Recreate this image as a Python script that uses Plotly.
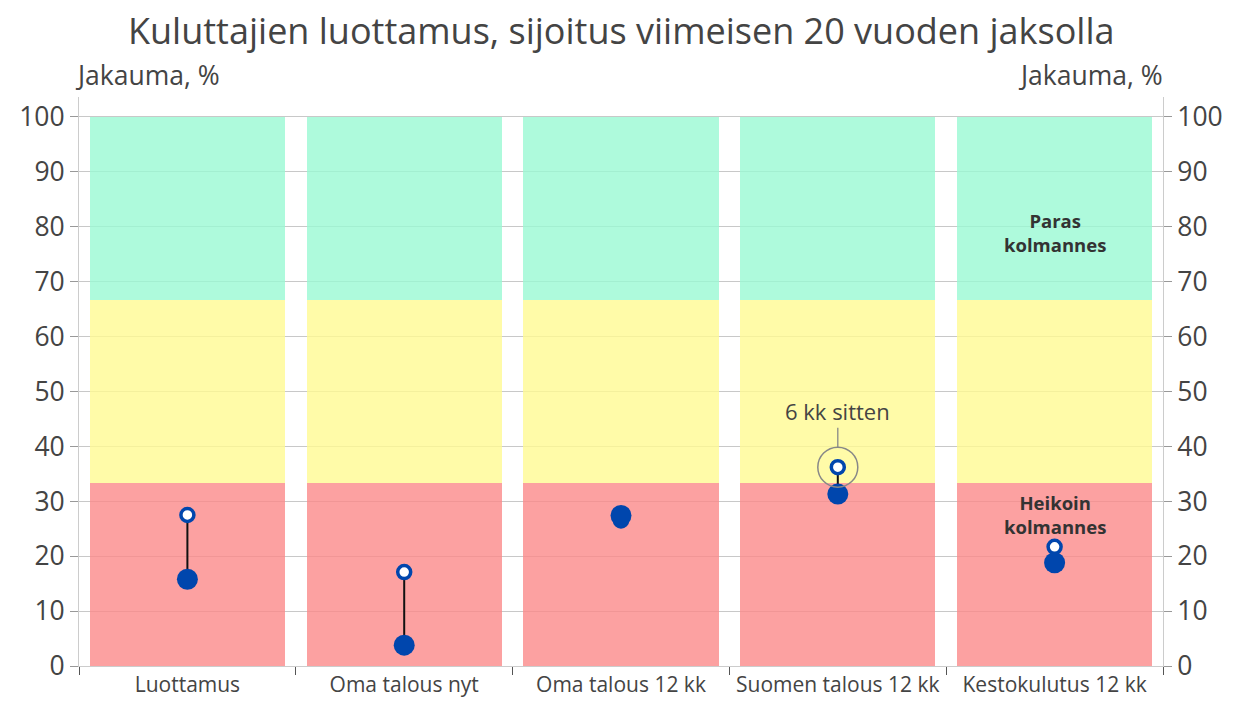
import plotly.graph_objects as go

categories = ["Luottamus", "Oma talous nyt", "Oma talous 12 kk", "Suomen talous 12 kk", "Kestokulutus 12 kk"]
current = [15.8, 3.8, 27.4, 31.3, 18.8]
six_months_ago = [27.5, 17.1, 26.5, 36.2, 21.7]
band_low = [100 / 3] * 5
band_mid = [100 / 3] * 5
band_high = [100 / 3] * 5
y_ticks = [0, 10, 20, 30, 40, 50, 60, 70, 80, 90, 100]
highlight_index = 3
title_text = "Kuluttajien luottamus, sijoitus viimeisen 20 vuoden jaksolla"

FONT = "Open Sans"
TXT = "#444444"
BLUE = "#0046AD"

fig = go.Figure()
for vals, col, name in [
    (band_low, "rgba(251,137,137,0.8)", "Heikoin kolmannes"),
    (band_mid, "rgba(255,250,146,0.8)", "Keskimmäinen kolmannes"),
    (band_high, "rgba(154,249,211,0.8)", "Paras kolmannes"),
]:
    fig.add_trace(go.Bar(x=categories, y=vals, marker=dict(color=col, line=dict(width=0)),
                         name=name, hoverinfo="skip", showlegend=False))

# connectors
lx, ly = [], []
for c, a, b in zip(categories, current, six_months_ago):
    lx += [c, c, None]
    ly += [a, b, None]
fig.add_trace(go.Scatter(x=lx, y=ly, mode="lines", line=dict(color="#111111", width=2),
                         showlegend=False, hoverinfo="skip"))

fig.add_trace(go.Scatter(x=categories, y=six_months_ago, mode="markers", name="6 kk sitten",
                         marker=dict(size=13, color="white", line=dict(color=BLUE, width=3.5)),
                         showlegend=False))
fig.add_trace(go.Scatter(x=categories, y=current, mode="markers", name="Nyt",
                         marker=dict(size=21, color=BLUE, line=dict(width=0)),
                         showlegend=False))
# highlight circle
fig.add_trace(go.Scatter(x=[categories[highlight_index]], y=[six_months_ago[highlight_index]],
                         mode="markers", hoverinfo="skip", showlegend=False,
                         marker=dict(size=40, symbol="circle-open", color="#888888",
                                     line=dict(width=1.5, color="#888888"))))
# invisible trace for right axis
fig.add_trace(go.Scatter(x=[categories[0]], y=[0], yaxis="y2", mode="markers",
                         marker=dict(opacity=0), showlegend=False, hoverinfo="skip"))

fig.add_annotation(x=categories[highlight_index], y=six_months_ago[highlight_index],
                   text="6 kk sitten", showarrow=True, arrowhead=0, arrowwidth=1.3,
                   arrowcolor="#888888", ax=0, ay=-56, standoff=20,
                   font=dict(family=FONT, size=22, color=TXT))
fig.add_annotation(x=categories[4], y=79, text="<b>Paras<br>kolmannes</b>", showarrow=False,
                   font=dict(family=FONT, size=18.5, color="#333333"))
fig.add_annotation(x=categories[4], y=27.5, text="<b>Heikoin<br>kolmannes</b>", showarrow=False,
                   font=dict(family=FONT, size=18.5, color="#333333"))
fig.add_annotation(xref="paper", yref="paper", x=0, y=1.039, xanchor="left", yanchor="middle",
                   xshift=-6, text="Jakauma, %", showarrow=False,
                   font=dict(family=FONT, size=26.5, color=TXT))
fig.add_annotation(xref="paper", yref="paper", x=1, y=1.039, xanchor="right", yanchor="middle",
                   xshift=2, text="Jakauma, %", showarrow=False,
                   font=dict(family=FONT, size=26.5, color=TXT))
# title as annotation (paper coords: plot top at 89px from figure top)
fig.add_annotation(xref="paper", yref="paper", x=0.5, y=1, yshift=67, xanchor="center",
                   yanchor="middle", text=title_text, showarrow=False,
                   font=dict(family=FONT, size=36, color=TXT))

axis_common = dict(range=[0, 103.6], tickvals=y_ticks, ticks="outside", ticklen=8,
                   tickcolor="#999999", showline=True, linecolor="#cccccc", linewidth=1,
                   tickfont=dict(family=FONT, size=26.5, color=TXT), zeroline=False,
                   automargin=False)

fig.update_layout(
    width=1228, height=700,
    margin=dict(l=71, r=73, t=89, b=42, autoexpand=False),
    paper_bgcolor="white", plot_bgcolor="white",
    barmode="stack", bargap=0.1,
    xaxis=dict(type="category", tickson="boundaries", ticks="outside", ticklen=8,
               tickcolor="#555555", showline=True, linecolor="#cccccc", showgrid=False,
               tickfont=dict(family=FONT, size=21, color=TXT), automargin=False),
    yaxis=dict(**axis_common, showgrid=True, gridcolor="#c8c8c8", gridwidth=1),
    yaxis2=dict(**axis_common, overlaying="y", side="right", showgrid=False),
)

fig.write_html("out.html")
